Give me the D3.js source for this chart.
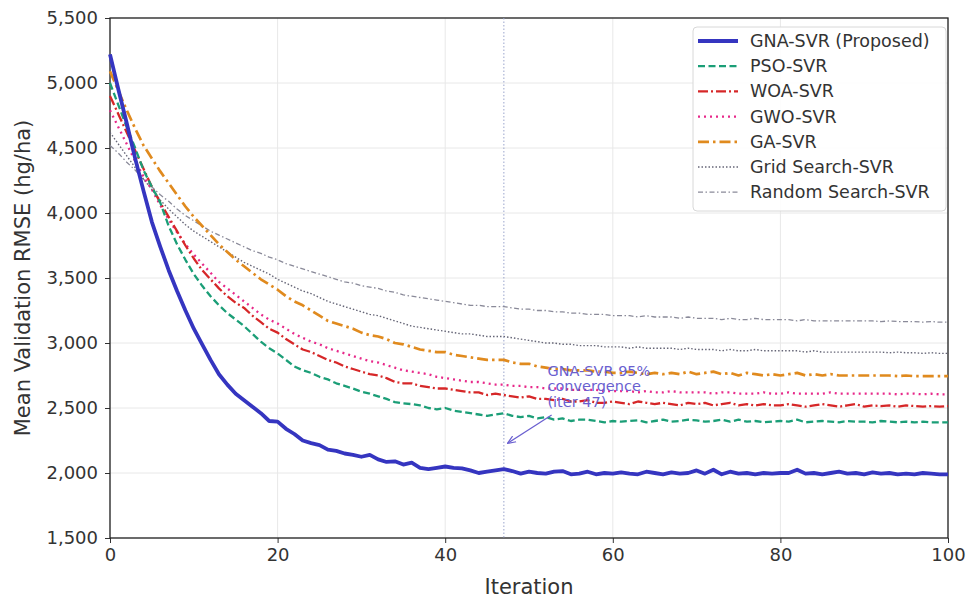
<!DOCTYPE html>
<html>
<head>
<meta charset="utf-8">
<script src="https://cdn.jsdelivr.net/npm/d3@7"></script>
<style>
  body { margin: 0; background: #fff; }
  svg { font-family: "DejaVu Sans", sans-serif; }
</style>
</head>
<body>
<div id="chart"><svg width="967" height="600"></svg></div>
<script>
// values, one per iteration 0..100
const gnaSvr = [
  5220, 4950, 4690, 4420, 4170, 3930, 3740, 3560, 3400, 3250, 3110,
  2990, 2870, 2760, 2680, 2610, 2560, 2510, 2460, 2400, 2395,
  2340, 2300, 2250, 2230, 2215, 2180, 2170, 2150, 2140, 2125,
  2140, 2105, 2085, 2090, 2065, 2080, 2040, 2030, 2040, 2050,
  2040, 2035, 2020, 2000, 2010, 2020, 2030, 2015, 1995, 2010,
  2000, 1995, 2010, 2015, 1990, 1995, 2010, 1990, 2000, 1995,
  2005, 1995, 1990, 2010, 2000, 1990, 2005, 1995, 2000, 2020,
  1995, 2025, 1990, 2010, 1995, 2000, 1990, 2000, 1995, 2000,
  2000, 2025, 1995, 2000, 1990, 2000, 2010, 1995, 2000, 1990,
  2005, 1995, 2000, 1990, 1995, 1990, 2000, 1995, 1990, 1990
];
const psoSvr = [
  5000, 4830, 4660, 4500, 4330, 4200, 4080, 3900, 3760, 3640, 3530,
  3440, 3360, 3290, 3230, 3180, 3130, 3070, 3010, 2960, 2920,
  2870, 2820, 2790, 2770, 2740, 2720, 2690, 2670, 2650, 2625,
  2610, 2590, 2570, 2545, 2535, 2530, 2520, 2500, 2490, 2500,
  2480, 2470, 2460, 2450, 2440, 2450, 2460, 2440, 2430, 2440,
  2420, 2430, 2410, 2420, 2400, 2410, 2410, 2400, 2390, 2400,
  2395, 2400, 2405, 2390, 2400, 2410, 2395, 2400, 2410, 2405,
  2395, 2400, 2410, 2395, 2410, 2395, 2400, 2390, 2395, 2400,
  2395, 2410, 2390, 2395, 2400, 2395, 2390, 2400, 2395, 2395,
  2390, 2400, 2395, 2390, 2395, 2390, 2395, 2390, 2390, 2390
];
const woaSvr = [
  4900, 4760, 4620, 4480, 4340, 4200, 4080, 3970, 3860, 3750, 3650,
  3560, 3490, 3420, 3360, 3310, 3270, 3210, 3160, 3110, 3080,
  3030, 2990, 2950, 2930, 2900, 2870, 2850, 2820, 2800, 2780,
  2760, 2750, 2730, 2700, 2690, 2690, 2670, 2660, 2650, 2650,
  2640, 2630, 2620, 2620, 2600, 2610, 2600, 2590, 2580, 2590,
  2570, 2570, 2560, 2570, 2550, 2550, 2560, 2540, 2540, 2550,
  2540, 2530, 2550, 2540, 2530, 2540, 2530, 2520, 2540, 2530,
  2540, 2520, 2530, 2540, 2520, 2530, 2520, 2530, 2520, 2520,
  2530, 2520, 2510, 2520, 2530, 2520, 2510, 2520, 2530, 2510,
  2520, 2515, 2520, 2510, 2520, 2515, 2510, 2515, 2510, 2515
];
const gwoSvr = [
  4790, 4660, 4530, 4400, 4280, 4180, 4060, 3950, 3850, 3760, 3680,
  3610, 3540, 3470, 3420, 3370, 3320, 3270, 3220, 3180, 3150,
  3110, 3070, 3040, 3010, 2990, 2960, 2940, 2920, 2900, 2880,
  2860, 2850, 2830, 2810, 2790, 2780, 2770, 2760, 2740, 2730,
  2720, 2710, 2700, 2700, 2690, 2680, 2680, 2670, 2670, 2660,
  2660, 2650, 2650, 2650, 2640, 2640, 2640, 2640, 2630, 2630,
  2630, 2630, 2620, 2630, 2620, 2620, 2630, 2620, 2620, 2620,
  2620, 2610, 2620, 2620, 2610, 2610, 2610, 2620, 2610, 2610,
  2620, 2610, 2610, 2610, 2610, 2620, 2610, 2610, 2610, 2610,
  2610, 2610, 2610, 2605, 2610, 2610, 2605, 2610, 2605, 2605
];
const gaSvr = [
  5090, 4940, 4790, 4650, 4520, 4420, 4320, 4230, 4140, 4050, 3970,
  3900, 3830, 3760, 3700, 3640, 3590, 3540, 3490, 3450, 3410,
  3360, 3320, 3290, 3250, 3210, 3170, 3150, 3130, 3110, 3080,
  3060, 3050, 3030, 3000, 2990, 2970, 2950, 2940, 2930, 2930,
  2910, 2900, 2890, 2880, 2870, 2870, 2870, 2850, 2840, 2840,
  2820, 2810, 2800, 2800, 2790, 2790, 2790, 2780, 2780, 2770,
  2770, 2780, 2770, 2760, 2770, 2760, 2770, 2760, 2780, 2760,
  2770, 2780, 2760, 2770, 2750, 2770, 2760, 2750, 2760, 2750,
  2760, 2770, 2750, 2760, 2750, 2760, 2750, 2750, 2750, 2750,
  2750, 2750, 2750, 2745, 2750, 2745, 2745, 2745, 2745, 2745
];
const gridSvr = [
  4620, 4530, 4440, 4350, 4260, 4180, 4100, 4030, 3970, 3910, 3860,
  3820, 3780, 3740, 3700, 3660, 3620, 3590, 3560, 3530, 3490,
  3460, 3430, 3400, 3380, 3350, 3320, 3300, 3280, 3260, 3240,
  3220, 3210, 3190, 3170, 3150, 3130, 3120, 3110, 3100, 3090,
  3080, 3070, 3070, 3060, 3050, 3050, 3050, 3040, 3030, 3020,
  3010, 3000, 3000, 2990, 2990, 2980, 2980, 2980, 2970, 2970,
  2970, 2960, 2970, 2960, 2960, 2960, 2960, 2950, 2960, 2950,
  2950, 2950, 2940, 2950, 2940, 2940, 2950, 2940, 2940, 2940,
  2940, 2940, 2930, 2940, 2930, 2930, 2930, 2930, 2930, 2930,
  2930, 2930, 2925, 2930, 2925, 2925, 2920, 2925, 2920, 2920
];
const randomSvr = [
  4520, 4460, 4390, 4330, 4260, 4200, 4140, 4090, 4030, 3980, 3940,
  3900, 3860, 3830, 3800, 3770, 3740, 3710, 3690, 3660, 3640,
  3610, 3590, 3570, 3550, 3530, 3510, 3490, 3470, 3460, 3440,
  3430, 3420, 3400, 3390, 3370, 3360, 3350, 3340, 3330, 3320,
  3310, 3300, 3290, 3290, 3280, 3280, 3280, 3270, 3260, 3260,
  3250, 3250, 3240, 3240, 3230, 3230, 3220, 3220, 3220, 3210,
  3210, 3210, 3200, 3210, 3200, 3200, 3200, 3190, 3200, 3190,
  3190, 3190, 3180, 3190, 3180, 3180, 3190, 3180, 3180, 3180,
  3180, 3170, 3180, 3170, 3170, 3170, 3170, 3170, 3170, 3170,
  3170, 3165, 3170, 3165, 3165, 3165, 3160, 3165, 3160, 3160
];

const seriesNames = ["GNA-SVR (Proposed)", "PSO-SVR", "WOA-SVR", "GWO-SVR", "GA-SVR", "Grid Search-SVR", "Random Search-SVR"];
const xTicks = [0, 20, 40, 60, 80, 100];
const yTicks = [1500, 2000, 2500, 3000, 3500, 4000, 4500, 5000, 5500];
const convIter = 47;
const convLabel = ["GNA-SVR 95%", "convergence", "(iter 47)"];

function Chart(config){
    var width = config.width,
        height = config.height,
        margin = config.margin,
        svg, x, y

    var innerW = width - margin.left - margin.right,
        innerH = height - margin.top - margin.bottom

    var styles = [
        {color: "#3535c0", w: 3.8, dash: null},
        {color: "#1b9e77", w: 2.3, dash: "7,3.5"},
        {color: "#d62728", w: 2.3, dash: "10,3,2,3"},
        {color: "#e7298a", w: 2.3, dash: "2,4"},
        {color: "#e08a1e", w: 2.7, dash: "11,4,2.5,4"},
        {color: "#666677", w: 1.4, dash: "1.5,2"},
        {color: "#8a8a99", w: 1.3, dash: "5,2.5,1.5,2.5"}
    ]

    function chart(){
        initialize();
        drawAxes();
        drawLines();
        drawAnnotation();
        drawLegend();
    }

    const initialize = () => {
        svg = d3.select('#' + config.id).select('svg')
            .append('g')
            .attr('transform', 'translate(' + margin.left + ',' + margin.top + ')');

        x = d3.scaleLinear().domain([0, 100]).range([0, innerW]);
        y = d3.scaleLinear().domain([1500, 5500]).range([innerH, 0]);
    }

    const drawAxes = () => {
        // grid
        svg.append('g').selectAll('line.gx').data(xTicks).enter()
            .append('line')
            .attr('x1', d => x(d)).attr('x2', d => x(d))
            .attr('y1', 0).attr('y2', innerH)
            .attr('stroke', '#e8e8e8').attr('stroke-width', 1);
        svg.append('g').selectAll('line.gy').data(yTicks).enter()
            .append('line')
            .attr('x1', 0).attr('x2', innerW)
            .attr('y1', d => y(d)).attr('y2', d => y(d))
            .attr('stroke', '#e8e8e8').attr('stroke-width', 1);

        var xAxis = svg.append('g')
            .attr('transform', 'translate(0,' + innerH + ')')
            .call(d3.axisBottom(x).tickValues(xTicks).tickSize(5).tickPadding(5).tickFormat(d3.format('d')));
        var yAxis = svg.append('g')
            .call(d3.axisLeft(y).tickValues(yTicks).tickSize(5).tickPadding(7).tickFormat(d3.format(',')));

        [xAxis, yAxis].forEach(a => {
            a.select('.domain').remove();
            a.selectAll('line').attr('stroke', '#333');
            a.selectAll('text')
                .attr('fill', '#333')
                .style('font-size', '18px')
                .style('font-family', '"DejaVu Sans", sans-serif');
        });

        svg.append('rect')
            .attr('width', innerW).attr('height', innerH)
            .attr('fill', 'none')
            .attr('stroke', '#222')
            .attr('stroke-width', 1.3);

        svg.append('text')
            .attr('x', innerW / 2).attr('y', innerH + 56)
            .attr('text-anchor', 'middle')
            .attr('fill', '#333')
            .style('font-size', '21px')
            .text('Iteration');

        svg.append('text')
            .attr('transform', 'translate(' + (-80) + ',' + (innerH / 2) + ') rotate(-90)')
            .attr('text-anchor', 'middle')
            .attr('fill', '#333')
            .style('font-size', '21px')
            .text('Mean Validation RMSE (hg/ha)');

        // convergence marker
        svg.append('line')
            .attr('x1', x(convIter)).attr('x2', x(convIter))
            .attr('y1', 0).attr('y2', innerH)
            .attr('stroke', '#9aa4cc')
            .attr('stroke-width', 1)
            .attr('stroke-dasharray', '1.5,2');
    }

    const drawLines = () => {
        var all = [gnaSvr, psoSvr, woaSvr, gwoSvr, gaSvr, gridSvr, randomSvr];
        var line = d3.line().x((d, i) => x(i)).y(d => y(d));
        // draw back to front so the proposed line sits on top
        for (var k = all.length - 1; k >= 0; k--) {
            var s = styles[k];
            svg.append('path')
                .datum(all[k])
                .attr('d', line)
                .attr('fill', 'none')
                .attr('stroke', s.color)
                .attr('stroke-width', s.w)
                .attr('stroke-linejoin', 'round')
                .attr('stroke-dasharray', s.dash);
        }
    }

    const drawAnnotation = () => {
        var col = '#6a5fd0';
        var tx = x(52.2), ty = y(2750);
        svg.append('defs').append('marker')
            .attr('id', 'arrowhead')
            .attr('viewBox', '0 0 10 10')
            .attr('refX', 9).attr('refY', 5)
            .attr('markerWidth', 7).attr('markerHeight', 7)
            .attr('orient', 'auto')
            .append('path')
            .attr('d', 'M0,1 L10,5 L0,9')
            .attr('fill', 'none')
            .attr('stroke', col)
            .attr('stroke-width', 1.4);

        svg.append('line')
            .attr('x1', x(52.7)).attr('y1', y(2446))
            .attr('x2', x(47.5)).attr('y2', y(2231))
            .attr('stroke', col)
            .attr('stroke-width', 1.2)
            .attr('marker-end', 'url(#arrowhead)');

        svg.append('text')
            .attr('x', tx).attr('y', ty)
            .attr('fill', col)
            .style('font-size', '14.5px')
            .selectAll('tspan').data(convLabel).enter()
            .append('tspan')
            .attr('x', tx)
            .attr('dy', (d, i) => i == 0 ? 0 : 15.5)
            .text(d => d);
    }

    const drawLegend = () => {
        var lg = svg.append('g')
            .attr('transform', 'translate(' + (innerW - 255) + ',9)');
        lg.append('rect')
            .attr('width', 253).attr('height', 184)
            .attr('rx', 4)
            .attr('fill', '#fff')
            .attr('fill-opacity', 0.9)
            .attr('stroke', '#d8d8d8');
        var rows = lg.selectAll('g.row').data(seriesNames).enter()
            .append('g')
            .attr('transform', (d, i) => 'translate(0,' + (14 + i * 25.2) + ')');
        rows.append('line')
            .attr('x1', 5).attr('x2', 45)
            .attr('y1', 0).attr('y2', 0)
            .attr('stroke', (d, i) => styles[i].color)
            .attr('stroke-width', (d, i) => styles[i].w)
            .attr('stroke-dasharray', (d, i) => styles[i].dash);
        rows.append('text')
            .attr('x', 57).attr('y', 6)
            .attr('fill', '#333')
            .style('font-size', '17.5px')
            .text(d => d);
    }

    return chart;
}

var myChart = Chart({id: 'chart', width: 967, height: 600, margin: {top: 18, bottom: 62, left: 110, right: 19}});
myChart();
</script>
</body>
</html>
